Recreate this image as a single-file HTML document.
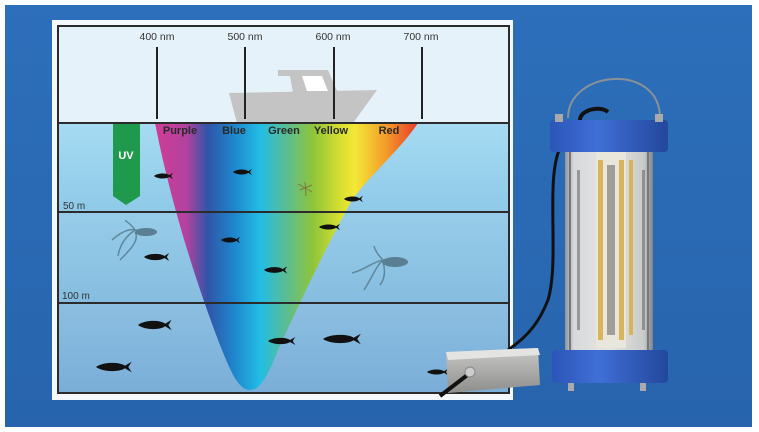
<!DOCTYPE html>
<html><head><meta charset="utf-8"><style>
html,body{margin:0;padding:0;background:#fff;}
svg{display:block}
</style></head><body>
<svg width="759" height="432" viewBox="0 0 759 432" xmlns="http://www.w3.org/2000/svg">
<defs>
<linearGradient id="bg" x1="0" y1="0" x2="0" y2="1"><stop offset="0" stop-color="#2d6fba"/><stop offset="1" stop-color="#2764ad"/></linearGradient>
<linearGradient id="w1" x1="0" y1="0" x2="0" y2="1"><stop offset="0" stop-color="#a6dcf2"/><stop offset="1" stop-color="#8ec9e8"/></linearGradient>
<linearGradient id="w2" x1="0" y1="0" x2="0" y2="1"><stop offset="0" stop-color="#97cde9"/><stop offset="1" stop-color="#86bde0"/></linearGradient>
<linearGradient id="w3" x1="0" y1="0" x2="0" y2="1"><stop offset="0" stop-color="#8cbfe1"/><stop offset="1" stop-color="#7aaed8"/></linearGradient>
<linearGradient id="spec" x1="155" y1="0" x2="418" y2="0" gradientUnits="userSpaceOnUse">
<stop offset="0" stop-color="#d03c96"/><stop offset="0.12" stop-color="#b2429f"/><stop offset="0.2" stop-color="#2f55a8"/><stop offset="0.3" stop-color="#1e86cc"/><stop offset="0.4" stop-color="#22bde6"/><stop offset="0.5" stop-color="#5bbd92"/><stop offset="0.6" stop-color="#8fc43a"/><stop offset="0.7" stop-color="#d4de30"/><stop offset="0.76" stop-color="#f4e836"/><stop offset="0.88" stop-color="#f39a2a"/><stop offset="1" stop-color="#e83a2a"/></linearGradient>
<linearGradient id="cap" x1="0" y1="0" x2="1" y2="0"><stop offset="0" stop-color="#2b55b8"/><stop offset="0.4" stop-color="#3f6fd6"/><stop offset="1" stop-color="#23479d"/></linearGradient>
<linearGradient id="tube" x1="0" y1="0" x2="1" y2="0"><stop offset="0" stop-color="#8f959c"/><stop offset="0.1" stop-color="#d6d9dc"/><stop offset="0.5" stop-color="#e6e6e0"/><stop offset="0.9" stop-color="#c8cacc"/><stop offset="1" stop-color="#7d838a"/></linearGradient>
<linearGradient id="box" x1="0" y1="0" x2="0" y2="1"><stop offset="0" stop-color="#c9c9c7"/><stop offset="1" stop-color="#8e8e8c"/></linearGradient>
<path id="fish" d="M-10,0 C-6,-4 4,-4 7,-1 L11,-4 L9,0 L11,4 L7,1 C4,4 -6,4 -10,0Z" fill="#111"/>
</defs>
<rect x="5" y="5" width="747" height="422" fill="url(#bg)"/>
<rect x="52" y="20" width="461" height="380" fill="#f4f8fb"/>
<rect x="58" y="26" width="451" height="97" fill="#e6f2fa"/>
<rect x="58" y="123" width="451" height="89" fill="url(#w1)"/>
<rect x="58" y="212" width="451" height="91" fill="url(#w2)"/>
<rect x="58" y="303" width="451" height="90" fill="url(#w3)"/>
<polygon points="229,93 377,90 353,123 237,123" fill="#c4c4c4"/>
<polygon points="278,70 328,70 338,93 293,93 290,76 278,76" fill="#c4c4c4"/>
<polygon points="302,76 322,76 328,91 307,91" fill="#fff"/>
<g font-family="Liberation Sans, sans-serif" font-size="10.5" fill="#333" text-anchor="middle">
<text x="157" y="40">400 nm</text><text x="245" y="40">500 nm</text><text x="333" y="40">600 nm</text><text x="421" y="40">700 nm</text>
</g>
<g stroke="#222" stroke-width="2"><line x1="157" y1="47" x2="157" y2="119"/><line x1="245" y1="47" x2="245" y2="119"/><line x1="334" y1="47" x2="334" y2="119"/><line x1="422" y1="47" x2="422" y2="119"/></g>
<polygon points="113,123 140,123 140,196 126,205 113,196" fill="#1f9a4c"/>
<text x="126" y="159" font-family="Liberation Sans, sans-serif" font-weight="bold" font-size="11" fill="#fff" text-anchor="middle">UV</text>
<path d="M155,123 L418,123 C400,150 370,175 352,200 C330,240 310,280 278,350 C270,370 262,390 250,390 C238,390 230,370 220,345 C195,280 170,200 155,123Z" fill="url(#spec)"/>
<g font-family="Liberation Sans, sans-serif" font-weight="bold" font-size="11" fill="#2a2a2a" text-anchor="middle">
<text x="180" y="134">Purple</text><text x="234" y="134">Blue</text><text x="284" y="134">Green</text><text x="331" y="134">Yellow</text><text x="389" y="134">Red</text>
</g>
<g stroke="#2b2b2b" stroke-width="2"><line x1="58" y1="123" x2="509" y2="123"/><line x1="58" y1="212" x2="509" y2="212"/><line x1="58" y1="303" x2="509" y2="303"/></g>
<rect x="58" y="26" width="451" height="367" fill="none" stroke="#2b2b2b" stroke-width="2"/>
<g font-family="Liberation Sans, sans-serif" font-size="10" fill="#333"><text x="63" y="209">50 m</text><text x="62" y="299">100 m</text></g>
<use href="#fish" transform="translate(163,176) scale(0.9,0.8)"/>
<use href="#fish" transform="translate(242,172) scale(0.9,0.8)"/>
<use href="#fish" transform="translate(353,199) scale(0.9,0.8)"/>
<use href="#fish" transform="translate(329,227) scale(1,0.8)"/>
<use href="#fish" transform="translate(230,240) scale(0.9,0.8)"/>
<use href="#fish" transform="translate(156,257) scale(1.2,1)"/>
<use href="#fish" transform="translate(275,270) scale(1.1,0.9)"/>
<use href="#fish" transform="translate(154,325) scale(1.6,1.3)"/>
<use href="#fish" transform="translate(281,341) scale(1.3,1)"/>
<use href="#fish" transform="translate(341,339) scale(1.8,1.3)"/>
<use href="#fish" transform="translate(113,367) scale(1.7,1.3)"/>
<use href="#fish" transform="translate(437,372) scale(1,0.8)"/>
<g fill="none" stroke="#5a7f93" stroke-width="1.5" opacity="0.9">
<path d="M157,232 L135,230 M135,230 C128,228 120,233 112,240 M135,230 C126,236 120,244 118,256 M135,230 C130,222 125,222 126,220 M135,232 C140,240 130,250 120,260"/>
<path d="M408,262 L383,260 M383,260 C372,262 365,270 352,273 M383,260 C376,266 372,278 364,290 M383,260 C378,255 375,250 374,246 M383,262 C386,272 384,280 380,285"/>
</g>
<ellipse cx="146" cy="232" rx="11" ry="4" fill="#5a7f93"/>
<ellipse cx="395" cy="262" rx="13" ry="5" fill="#5a7f93"/>
<g stroke="#7a7a3a" stroke-width="1" fill="none"><path d="M300,190 L312,185 M305,182 L306,196 M298,184 L312,192"/></g>
<path d="M568,118 C568,70 660,62 660,118" fill="none" stroke="#8a9298" stroke-width="2"/>
<path d="M580,120 C580,110 600,105 608,112" fill="none" stroke="#111" stroke-width="4"/>
<path d="M560,148 C545,180 560,260 548,300 C540,320 530,335 508,350" fill="none" stroke="#111" stroke-width="3"/>
<rect x="565" y="150" width="88" height="202" fill="url(#tube)"/>
<rect x="596" y="152" width="30" height="196" fill="#e9e6dc"/>
<g fill="#d9b45a">
<rect x="598" y="160" width="5" height="180"/><rect x="619" y="160" width="5" height="180"/><rect x="629" y="160" width="4" height="175"/>
</g>
<g fill="#555"><rect x="607" y="165" width="8" height="170" opacity="0.5"/><rect x="577" y="170" width="3" height="160" opacity="0.5"/><rect x="642" y="170" width="3" height="160" opacity="0.5"/></g>
<line x1="570" y1="150" x2="570" y2="352" stroke="#777" stroke-width="2"/><line x1="648" y1="150" x2="648" y2="352" stroke="#777" stroke-width="2"/>
<rect x="550" y="120" width="118" height="32" rx="4" fill="url(#cap)"/>
<rect x="552" y="350" width="116" height="33" rx="4" fill="url(#cap)"/>
<g fill="#aaa"><rect x="555" y="114" width="8" height="8"/><rect x="655" y="114" width="8" height="8"/><rect x="568" y="383" width="6" height="8"/><rect x="640" y="383" width="6" height="8"/></g>
<polygon points="446,352 538,348 540,385 448,393" fill="url(#box)"/>
<polygon points="446,352 538,348 540,355 448,360" fill="#e4e4e2"/>
<path d="M470,373 L440,396" stroke="#111" stroke-width="4"/>
<circle cx="470" cy="372" r="5" fill="#ccc" stroke="#888"/>
</svg>
</body></html>
